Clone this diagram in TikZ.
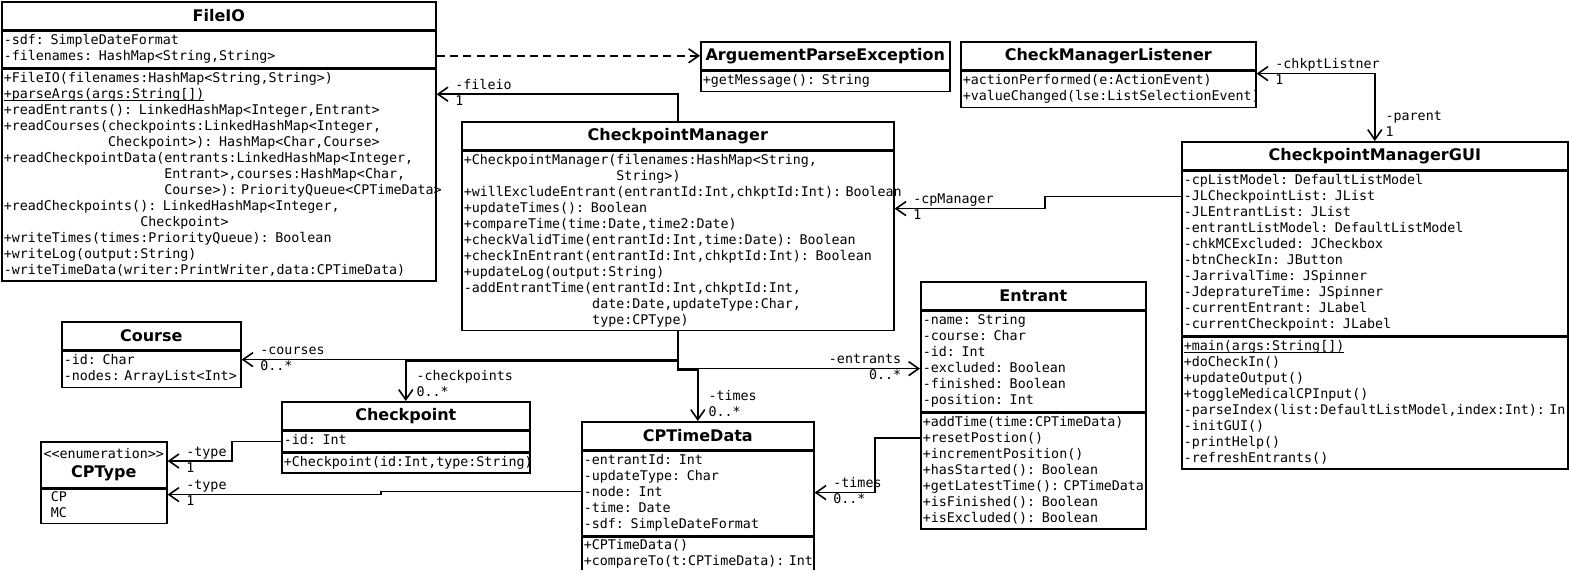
\documentclass[tikz,border=0pt]{standalone}
\usepackage{fontspec}
\setsansfont{DejaVu Sans}
\setmonofont{DejaVu Sans Mono}
\usetikzlibrary{positioning,calc,arrows.meta}
\newdimen\pxu \pxu=0.75pt
\newcommand\ulstatic[1]{\leavevmode\setbox0\hbox{#1}\rlap{\rule[-1.7pt]{\wd0}{0.7pt}}\box0}

\begin{document}
\begin{tikzpicture}[x=0.75pt,y=-0.75pt,>={Straight Barb[length=7.5pt,width=10.5pt]}]
\tikzset{ttl/.style={draw,line width=1.2pt,font=\sffamily\bfseries\large,minimum height=28\pxu,inner sep=0pt,anchor=north west}}
\tikzset{cmp/.style={draw,line width=1.2pt,font=\ttfamily,align=left,inner xsep=2\pxu,inner ysep=0pt,execute at begin node=\strut,execute at end node=\strut}}
\tikzset{assoc/.style={line width=1.2pt,->}}
\tikzset{lbl/.style={font=\ttfamily,inner sep=0pt}}
\tikzset{rl/.style={lbl,anchor=base west,xshift=18\pxu,yshift=5\pxu},ml/.style={lbl,anchor=base west,xshift=18\pxu,yshift=-11\pxu}}
\tikzset{rr/.style={lbl,anchor=base east,xshift=-18\pxu,yshift=5\pxu},mr/.style={lbl,anchor=base east,xshift=-18\pxu,yshift=-11\pxu}}
\tikzset{rd/.style={lbl,anchor=base west,xshift=10\pxu,yshift=21\pxu},md/.style={lbl,anchor=base west,xshift=10\pxu,yshift=5\pxu}}
\useasboundingbox (0,0) rectangle (1569,569);

\node[ttl,minimum width=434\pxu] (fio) at (1,1) {FileIO};
\node[cmp,text width=430\pxu,minimum height=36\pxu,below=0pt of fio] (fio-a) {-sdf: SimpleDateFormat\\-filenames: HashMap<String,String>};
\node[cmp,text width=430\pxu,minimum height=212\pxu,below=0pt of fio-a] (fio-m) {+FileIO(filenames:HashMap<String,String>)\\
\ulstatic{+parseArgs(args:String[])}\\
+readEntrants(): LinkedHashMap<Integer,Entrant>\\
+readCourses(checkpoints:LinkedHashMap<Integer,\\
\phantom{+readCourses(}Checkpoint>): HashMap<Char,Course>\\
+readCheckpointData(entrants:LinkedHashMap<Integer,\\
\phantom{+readCheckpointData(}Entrant>,courses:HashMap<Char,\\
\phantom{+readCheckpointData(}Course>):~PriorityQueue<CPTimeData>\\
+readCheckpoints(): LinkedHashMap<Integer,\\
\phantom{+readCheckpoints(}Checkpoint>\\
+writeTimes(times:PriorityQueue): Boolean\\
+writeLog(output:String)\\
-writeTimeData(writer:PrintWriter,data:CPTimeData)};

\node[ttl,minimum width=249\pxu] (ape) at (700,41) {ArguementParseException};
\node[cmp,text width=245\pxu,minimum height=20\pxu,below=0pt of ape] (ape-m) {+getMessage(): String};

\node[ttl,minimum width=295\pxu] (cml) at (960,41) {CheckManagerListener};
\node[cmp,text width=291\pxu,minimum height=36\pxu,below=0pt of cml] (cml-m) {+actionPerformed(e:ActionEvent)\\+valueChanged(lse:ListSelectionEvent)};

\node[ttl,minimum width=432\pxu] (cpm) at (461,121) {CheckpointManager};
\node[cmp,text width=428\pxu,minimum height=179\pxu,below=0pt of cpm] (cpm-m) {+CheckpointManager(filenames:HashMap<String,\\
\phantom{+CheckpointManager(}String>)\\
+willExcludeEntrant(entrantId:Int,chkptId:Int):~Boolean\\
+updateTimes(): Boolean\\
+compareTime(time:Date,time2:Date)\\
+checkValidTime(entrantId:Int,time:Date): Boolean\\
+checkInEntrant(entrantId:Int,chkptId:Int): Boolean\\
+updateLog(output:String)\\
-addEntrantTime(entrantId:Int,chkptId:Int,\\
\phantom{-addEntrantTime(}date:Date,updateType:Char,\\
\phantom{-addEntrantTime(}type:CPType)};

\node[ttl,minimum width=386\pxu] (gui) at (1181,141) {CheckpointManagerGUI};
\node[cmp,text width=382\pxu,minimum height=164\pxu,below=0pt of gui] (gui-a) {-cpListModel: DefaultListModel\\
-JLCheckpointList: JList\\
-JLEntrantList: JList\\
-entrantListModel: DefaultListModel\\
-chkMCExcluded: JCheckbox\\
-btnCheckIn: JButton\\
-JarrivalTime: JSpinner\\
-JdepratureTime: JSpinner\\
-currentEntrant: JLabel\\
-currentCheckpoint: JLabel};
\node[cmp,text width=382\pxu,minimum height=132\pxu,below=0pt of gui-a] (gui-m) {\ulstatic{+main(args:String[])}\\
+doCheckIn()\\
+updateOutput()\\
+toggleMedicalCPInput()\\
-parseIndex(list:DefaultListModel,index:Int):~In\\
-initGUI()\\
-printHelp()\\
-refreshEntrants()};

\node[ttl,minimum width=225\pxu] (ent) at (920,281) {Entrant};
\node[cmp,text width=221\pxu,minimum height=100\pxu,below=0pt of ent] (ent-a) {-name: String\\-course: Char\\-id: Int\\-excluded: Boolean\\-finished: Boolean\\-position: Int};
\node[cmp,text width=221\pxu,minimum height=116\pxu,below=0pt of ent-a] (ent-m) {+addTime(time:CPTimeData)\\
+resetPostion()\\
+incrementPosition()\\
+hasStarted(): Boolean\\
+getLatestTime():~CPTimeData\\
+isFinished(): Boolean\\
+isExcluded(): Boolean};

\node[ttl,minimum width=179\pxu] (crs) at (61,321) {Course};
\node[cmp,text width=175\pxu,minimum height=36\pxu,below=0pt of crs] (crs-a) {-id: Char\\-nodes:~ArrayList<Int>};

\node[ttl,minimum width=248\pxu] (cp) at (281,401) {Checkpoint};
\node[cmp,text width=244\pxu,minimum height=20\pxu,below=0pt of cp] (cp-a) {-id: Int};
\node[cmp,text width=244\pxu,minimum height=20\pxu,below=0pt of cp-a] (cp-m) {+Checkpoint(id:Int,type:String)};

\node[ttl,minimum width=126\pxu,minimum height=46\pxu,align=center] (cpt) at (40,441) {{\mdseries\ttfamily\normalsize <<enumeration>>}\\CPType};
\node[cmp,text width=122\pxu,minimum height=34\pxu,below=0pt of cpt] (cpt-a) {\hspace*{6pt}CP\\\hspace*{6pt}MC};

\node[ttl,minimum width=232\pxu] (ctd) at (581,421) {CPTimeData};
\node[cmp,text width=228\pxu,minimum height=84\pxu,below=0pt of ctd] (ctd-a) {-entrantId: Int\\-updateType: Char\\-node: Int\\-time: Date\\-sdf: SimpleDateFormat};
\node[cmp,text width=228\pxu,minimum height=35\pxu,below=0pt of ctd-a] (ctd-m) {+CPTimeData()\\+compareTo(t:CPTimeData):~Int};

\draw[assoc,dash pattern=on 6pt off 4pt] (fio-a.east |- ape.west) -- (ape.west);
\draw[assoc] (cpm.north) |- ($(fio-m.north east)+(0,26)$) node[rl] (r-fio) {-fileio} node[ml] (m-fio) {1};
\draw[assoc,<->] ($(cml-m.north east)+(0,3)$) node[rl] (r-cml) {-chkptListner} node[ml] (m-cml) {1} -| (gui.north) node[rd] (r-gui) {-parent} node[md] (m-gui) {1};
\draw[assoc] ($(gui-a.north west)+(0,26)$) -- ++(-136,0) |- ($(cpm-m.north east)+(0,58)$) node[rl] (r-cpm) {-cpManager} node[ml] (m-cpm) {1};
\draw[assoc] (cpm-m.south) |- ($(crs-a.north east)+(0,9)$) node[rl] (r-crs) {-courses} node[ml] (m-crs) {0..*};
\draw[assoc] (cpm-m.south) -- ++(0,30) -| (cp.north) node[rd] (r-cp) {-checkpoints} node[md] (m-cp) {0..*};
\draw[assoc] (cpm-m.south) |- ($(ent-a.north west)+(0,58)$) node[rr] (r-ent) {-entrants} node[mr] (m-ent) {0..*};
\draw[assoc] (cpm-m.south) -- ++(0,39) -| (ctd.north) node[rd] (r-ctd) {-times} node[md] (m-ctd) {0..*};
\draw[assoc] (cp-a.west) -- ++(-49,0) |- ($(cpt.north east)+(0,20)$) node[rl] (r-cpt) {-type} node[ml] (m-cpt) {1};
\draw[assoc] ($(ctd-a.north west)+(0,41)$) -- ++(-200,0) |- ($(cpt-a.north east)+(0,6)$) node[rl] (r-cpt2) {-type} node[ml] (m-cpt2) {1};
\draw[assoc] ($(ent-m.north west)+(0,26)$) -- ++(-45,0) |- ($(ctd-a.north east)+(0,42)$) node[rl] (r-ctd2) {-times} node[ml] (m-ctd2) {0..*};
\end{tikzpicture}
\end{document}
